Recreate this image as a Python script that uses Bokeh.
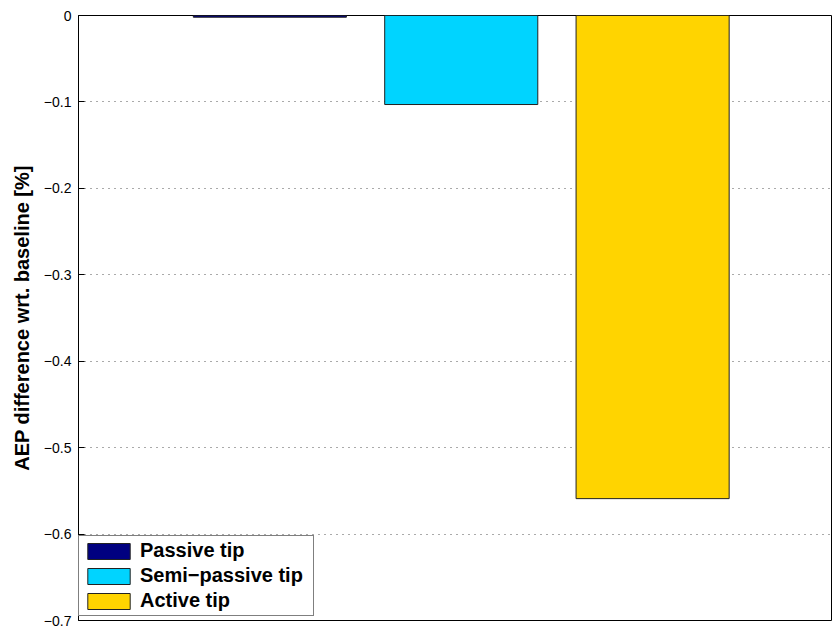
from bokeh.plotting import figure
from bokeh.models import ColumnDataSource, Legend, LegendItem, FixedTicker, Range1d
from bokeh.embed import file_html
from bokeh.resources import INLINE

categories = ["Passive tip", "Semi\u2212passive tip", "Active tip"]
positions = [1, 2, 3]
values = [-0.002, -0.103, -0.559]
colors = ["#000080", "#00D4FF", "#FFD400"]
yticks = [0, -0.1, -0.2, -0.3, -0.4, -0.5, -0.6, -0.7]
ytick_labels = ["0", "\u22120.1", "\u22120.2", "\u22120.3", "\u22120.4", "\u22120.5", "\u22120.6", "\u22120.7"]

p = figure(width=832, height=628, output_backend="svg", toolbar_location=None,
           x_range=Range1d(0, 3.94), y_range=Range1d(-0.7, 0),
           min_border_left=78, min_border_right=0, min_border_top=15, min_border_bottom=8)

renderers = []
for i in range(3):
    src = ColumnDataSource(dict(x=[positions[i]], top=[0], bottom=[values[i]]))
    r = p.vbar(x="x", top="top", bottom="bottom", width=0.8, source=src,
               fill_color=colors[i], line_color="#222222", line_width=1)
    renderers.append(r)

legend = Legend(items=[LegendItem(label=categories[i], renderers=[renderers[i]]) for i in range(3)],
                location=(0, 4), margin=0, padding=3, spacing=2,
                glyph_width=53, glyph_height=20,
                label_text_font="Liberation Sans", label_text_font_style="bold",
                label_text_font_size="20px", label_text_color="black", label_standoff=5,
                label_width=170,
                border_line_color="black", border_line_width=1,
                background_fill_alpha=1)
p.add_layout(legend, "center")

p.xaxis.visible = False
p.xgrid.visible = False
p.ygrid.ticker = FixedTicker(ticks=yticks)
p.ygrid.grid_line_color = "#555555"
p.ygrid.grid_line_dash = "1 5"
p.ygrid.grid_line_width = 1

p.yaxis.ticker = FixedTicker(ticks=yticks)
p.yaxis.major_label_overrides = {t: l for t, l in zip(yticks, ytick_labels)}
p.yaxis.major_label_text_font = "Liberation Sans"
p.yaxis.major_label_text_font_size = "14px"
p.yaxis.major_label_text_color = "black"
p.yaxis.major_tick_in = 6
p.yaxis.major_tick_out = 0
p.yaxis.minor_tick_line_color = None
p.yaxis.axis_line_color = "black"
p.yaxis.major_tick_line_color = "black"
p.yaxis.major_label_standoff = 7
p.yaxis.axis_label = "AEP difference wrt. baseline [%]"
p.yaxis.axis_label_text_font = "Liberation Sans"
p.yaxis.axis_label_text_font_style = "bold"
p.yaxis.axis_label_text_font_size = "20px"
p.yaxis.axis_label_text_color = "black"
p.yaxis.axis_label_standoff = 8

p.outline_line_color = "black"
p.outline_line_width = 1
p.background_fill_color = "white"
p.border_fill_color = "white"

open("out.html", "w").write(file_html(p, INLINE))
